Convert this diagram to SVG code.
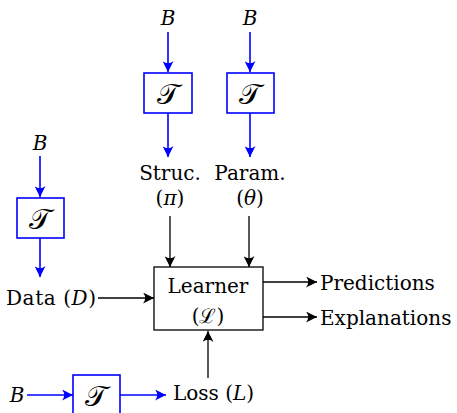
<svg xmlns="http://www.w3.org/2000/svg" width="457" height="413" viewBox="0 0 457 413">
<style>
text{font-family:"DejaVu Serif","Liberation Serif",serif;font-size:20px;fill:#000}
.it{font-style:italic}
.c{text-anchor:middle}
.blue{stroke:#0000ff;stroke-width:1.6;fill:none}
.blk{stroke:#000;stroke-width:1.3;fill:none}
.box{fill:#fff;stroke:#0000ff;stroke-width:1.6}
.lbox{fill:#fff;stroke:#000;stroke-width:1.3}
.cal{font-family:"DejaVu Serif","Noto Sans",serif;font-size:29px}
</style>
<defs>
<marker id="ab" viewBox="0 0 10 10" refX="10" refY="5" markerWidth="11" markerHeight="11" markerUnits="userSpaceOnUse" orient="auto"><path d="M0,0 Q4,5 0,10 L10,5 Z" fill="#0000ff"/></marker>
<marker id="ak" viewBox="0 0 10 10" refX="10" refY="5" markerWidth="11" markerHeight="11" markerUnits="userSpaceOnUse" orient="auto"><path d="M0,0 Q4,5 0,10 L10,5 Z" fill="#000"/></marker>
</defs>
<g id="connectors">
<line class="blue" x1="168" y1="32" x2="168" y2="72" marker-end="url(#ab)"/>
<line class="blue" x1="168" y1="113" x2="168" y2="157" marker-end="url(#ab)"/>
<line class="blue" x1="250" y1="32" x2="250" y2="72" marker-end="url(#ab)"/>
<line class="blue" x1="250" y1="113" x2="250" y2="157" marker-end="url(#ab)"/>
<line class="blue" x1="40" y1="156" x2="40" y2="197" marker-end="url(#ab)"/>
<line class="blue" x1="40" y1="238" x2="40" y2="277" marker-end="url(#ab)"/>
<line class="blue" x1="27" y1="395" x2="73" y2="395" marker-end="url(#ab)"/>
<line class="blue" x1="120" y1="395" x2="166" y2="395" marker-end="url(#ab)"/>
<line class="blk" x1="170" y1="216" x2="170" y2="267" marker-end="url(#ak)"/>
<line class="blk" x1="249" y1="216" x2="249" y2="267" marker-end="url(#ak)"/>
<line class="blk" x1="98" y1="298" x2="154" y2="298" marker-end="url(#ak)"/>
<line class="blk" x1="208" y1="378" x2="208" y2="331" marker-end="url(#ak)"/>
<line class="blk" x1="263" y1="282" x2="317" y2="282" marker-end="url(#ak)"/>
<line class="blk" x1="263" y1="317" x2="317" y2="317" marker-end="url(#ak)"/>
</g>
<g id="B1"><text class="it c" x="168" y="25">B</text></g>
<g id="B2"><text class="it c" x="250" y="25">B</text></g>
<g id="B3"><text class="it c" x="40" y="150">B</text></g>
<g id="B4"><text class="it c" x="17" y="402">B</text></g>
<g id="T1"><rect class="box" x="144" y="73" width="48" height="40"/><text class="cal c" x="168" y="104">𝒯</text></g>
<g id="T2"><rect class="box" x="227" y="73" width="47" height="40"/><text class="cal c" x="250" y="104">𝒯</text></g>
<g id="T3"><rect class="box" x="17" y="198" width="47" height="40"/><text class="cal c" x="40" y="229">𝒯</text></g>
<g id="T4"><rect class="box" x="73" y="375" width="47" height="42"/><text class="cal c" x="96" y="406">𝒯</text></g>
<g id="struc"><text class="c" x="170" y="180">Struc.</text><text class="c" x="170" y="205">(<tspan class="it">π</tspan>)</text></g>
<g id="param"><text class="c" x="250" y="180">Param.</text><text class="c" x="250" y="205">(<tspan class="it">θ</tspan>)</text></g>
<g id="data"><text x="6" y="305" textLength="90">Data (<tspan class="it">D</tspan>)</text></g>
<g id="learner"><rect class="lbox" x="154" y="267" width="109" height="63"/><text class="c" x="208" y="293">Learner</text><text class="c" x="208" y="323">(ℒ)</text></g>
<g id="loss"><text x="173" y="400">Loss (<tspan class="it">L</tspan>)</text></g>
<g id="pred"><text x="320" y="290">Predictions</text></g>
<g id="expl"><text x="320" y="325">Explanations</text></g>
</svg>
